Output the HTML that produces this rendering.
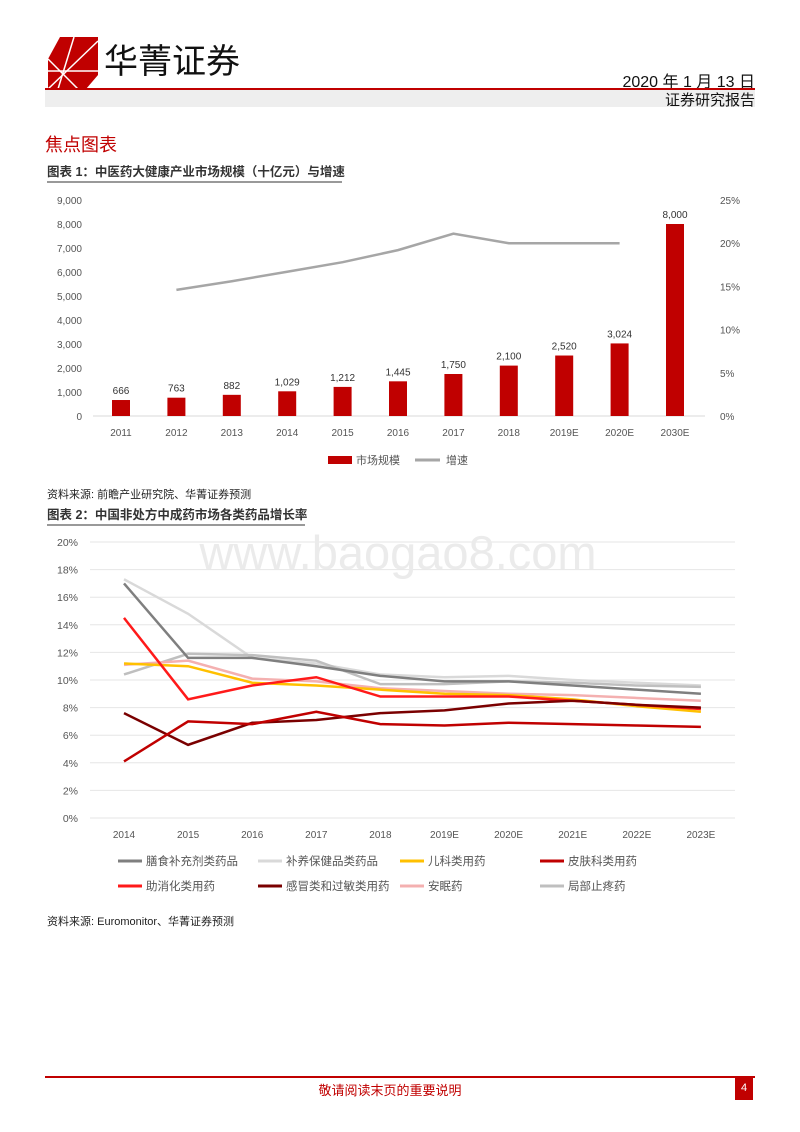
<!DOCTYPE html>
<html><head><meta charset="utf-8"><style>
body{margin:0;background:#fff;font-family:"Liberation Sans","Noto Sans CJK SC",sans-serif;}
#page{position:relative;width:800px;height:1132px;overflow:hidden;background:#fff}
.a{position:absolute;white-space:nowrap}
</style></head><body>
<div id="page">
<svg class="a" style="left:48px;top:37px" width="50" height="52">
<polygon points="0,22 12,0 50,0 50,38 38,52 0,52" fill="#c00000"/>
<line x1="26" y1="0" x2="10" y2="52" stroke="#fff" stroke-width="1.5"/>
<line x1="50" y1="4" x2="0" y2="52" stroke="#fff" stroke-width="1.5"/>
<line x1="0" y1="34" x2="50" y2="34" stroke="#fff" stroke-width="1.5"/>
<line x1="0" y1="22" x2="30" y2="52" stroke="#fff" stroke-width="1.5"/>
</svg>
<div class="a" style="left:104px;top:34px;font-size:34px;color:#111">华菁证券</div>
<div class="a" style="right:45px;top:68px;font-size:16px;color:#111">2020 年 1 月 13 日</div>
<div class="a" style="left:45px;top:88px;width:710px;height:2px;background:#c00000"></div>
<div class="a" style="left:45px;top:90px;width:710px;height:17px;background:#eee"></div>
<div class="a" style="right:45px;top:89px;font-size:15px;color:#111">证券研究报告</div>
<div class="a" style="left:45px;top:131px;font-size:18px;color:#c00000">焦点图表</div>
<div class="a" style="left:47px;top:161px;font-size:12.5px;font-weight:bold;color:#333;border-bottom:2px solid #999;padding-bottom:1px;width:295px">图表 1：中医药大健康产业市场规模（十亿元）与增速</div>
<svg class="a" style="left:0;top:185px" width="800" height="295" id="c1"></svg>
<div class="a" style="left:47px;top:486px;font-size:11px;color:#222">资料来源: 前瞻产业研究院、华菁证券预测</div>
<div class="a" style="left:47px;top:504px;font-size:12.5px;font-weight:bold;color:#333;border-bottom:2px solid #999;padding-bottom:1px;width:258px">图表 2：中国非处方中成药市场各类药品增长率</div>
<svg class="a" style="left:0;top:525px" width="800" height="380" id="c2"></svg>
<div class="a" style="left:47px;top:913px;font-size:11px;color:#222">资料来源: Euromonitor、华菁证券预测</div>
<div class="a" style="left:45px;top:1076px;width:710px;height:2px;background:#c00000"></div>
<div class="a" style="left:0;width:780px;text-align:center;top:1080px;font-size:13px;color:#c00000">敬请阅读末页的重要说明</div>
<div class="a" style="left:735px;top:1076px;width:18px;height:24px;background:#c00000;color:#fff;font-size:11px;text-align:center;line-height:24px">4</div>
</div>
<script>
const NS="http://www.w3.org/2000/svg";
function mk(p,t,a,txt){const e=document.createElementNS(NS,t);for(const k in a)e.setAttribute(k,a[k]);if(txt!==undefined)e.textContent=txt;p.appendChild(e);return e;}
// Chart 1 data
const c1Cats=["2011","2012","2013","2014","2015","2016","2017","2018","2019E","2020E","2030E"];
const c1Size=[666,763,882,1029,1212,1445,1750,2100,2520,3024,8000];
const c1SizeLabels=["666","763","882","1,029","1,212","1,445","1,750","2,100","2,520","3,024","8,000"];
const c1Growth=[null,14.6,15.6,16.7,17.8,19.2,21.1,20.0,20.0,20.0,null];
const c1LeftTicks=[0,1000,2000,3000,4000,5000,6000,7000,8000,9000];
const c1RightTicks=[0,5,10,15,20,25];
// Chart 2 data
const c2Cats=["2014","2015","2016","2017","2018","2019E","2020E","2021E","2022E","2023E"];
const s_diet=[17.0,11.6,11.6,11.0,10.3,9.9,9.9,9.6,9.3,9.0];
const s_tonic=[17.3,14.8,11.6,11.2,10.4,10.2,10.3,10.0,9.8,9.6];
const s_child=[11.2,11.0,9.8,9.6,9.3,9.0,8.9,8.6,8.1,7.7];
const s_skin=[4.1,7.0,6.8,7.7,6.8,6.7,6.9,6.8,6.7,6.6];
const s_digest=[14.5,8.6,9.6,10.2,8.8,8.8,8.8,8.5,8.2,7.9];
const s_cold=[7.6,5.3,6.9,7.1,7.6,7.8,8.3,8.5,8.2,8.0];
const s_sleep=[11.1,11.4,10.1,9.9,9.4,9.2,9.0,8.9,8.7,8.5];
const s_pain=[10.4,11.9,11.8,11.4,9.7,9.7,9.9,9.8,9.6,9.5];
const c2Names=["膳食补充剂类药品","补养保健品类药品","儿科类用药","皮肤科类用药","助消化类用药","感冒类和过敏类用药","安眠药","局部止疼药"];
const c2Colors=["#7f7f7f","#d9d9d9","#ffc000","#c00000","#ff1a1a","#7a0000","#f4b0b0","#bfbfbf"];
const c2Series=[s_diet,s_tonic,s_child,s_skin,s_digest,s_cold,s_sleep,s_pain];
const c2Ticks=[0,2,4,6,8,10,12,14,16,18,20];

(function(){
const g=document.getElementById('c1');
const y0=416-185,h=216;
const yL=v=>y0-v/9000*h, yR=v=>y0-v/25*h, x=i=>121+i*55.4;
c1LeftTicks.forEach(t=>{const e=mk(g,'text',{x:82,y:yL(t)+4,'text-anchor':'end','font-size':10,fill:'#555'},t.toLocaleString('en-US'));

});
c1RightTicks.forEach(t=>{const e=mk(g,'text',{x:720,y:yR(t)+4,'font-size':10,fill:'#555'},t+'%');

});
mk(g,'line',{x1:93,x2:705,y1:y0,y2:y0,stroke:'#d9d9d9'});
c1Cats.forEach((c,i)=>{
const b=mk(g,'rect',{x:x(i)-9,y:yL(c1Size[i]),width:18,height:y0-yL(c1Size[i]),fill:'#c00000'});


const l=mk(g,'text',{x:x(i),y:yL(c1Size[i])-6,'text-anchor':'middle','font-size':10,fill:'#333'},c1SizeLabels[i]);


const t=mk(g,'text',{x:x(i),y:y0+20,'text-anchor':'middle','font-size':10,fill:'#555'},c);


});
const pts=[];c1Growth.forEach((v,i)=>{if(v!==null)pts.push(x(i)+','+yR(v));});
const pl=mk(g,'polyline',{points:pts.join(' '),fill:'none',stroke:'#a6a6a6','stroke-width':2.5});


const lg1=mk(g,'rect',{x:328,y:271,width:24,height:8,fill:'#c00000'});


mk(g,'text',{x:356,y:279,'font-size':11,fill:'#555'},'市场规模');
const lg2=mk(g,'line',{x1:415,x2:440,y1:275,y2:275,stroke:'#a6a6a6','stroke-width':3});


mk(g,'text',{x:446,y:279,'font-size':11,fill:'#555'},'增速');
})();

(function(){
const g=document.getElementById('c2');
const y0=818-525,h=276;
const y=v=>y0-v/20*h, x=i=>124+i*64.1;
c2Ticks.forEach(t=>{mk(g,'line',{x1:90,x2:735,y1:y(t),y2:y(t),stroke:'#e6e6e6'});
const e=mk(g,'text',{x:78,y:y(t)+4,'text-anchor':'end','font-size':10.5,fill:'#555'},t+'%');

});
mk(g,'text',{x:398,y:44,'text-anchor':'middle','font-size':47,fill:'#ebebeb'},'www.baogao8.com');
c2Cats.forEach((c,i)=>{const e=mk(g,'text',{x:x(i),y:y0+20,'text-anchor':'middle','font-size':10,fill:'#555'},c);

});
const order=[1,7,0,6,2,4,5,3];
order.forEach(k=>{const pts=c2Series[k].map((v,i)=>x(i)+','+y(v)).join(' ');
const p=mk(g,'polyline',{points:pts,fill:'none',stroke:c2Colors[k],'stroke-width':2.5});

});
const lx=[118,258,400,540];
c2Names.forEach((n,k)=>{const r=Math.floor(k/4),c=k%4,yy=336+r*25;
const s=mk(g,'line',{x1:lx[c],x2:lx[c]+24,y1:yy,y2:yy,stroke:c2Colors[k],'stroke-width':3});


const t=mk(g,'text',{x:lx[c]+28,y:yy+4,'font-size':11.5,fill:'#555'},n);

});
})();
</script>
</body></html>
